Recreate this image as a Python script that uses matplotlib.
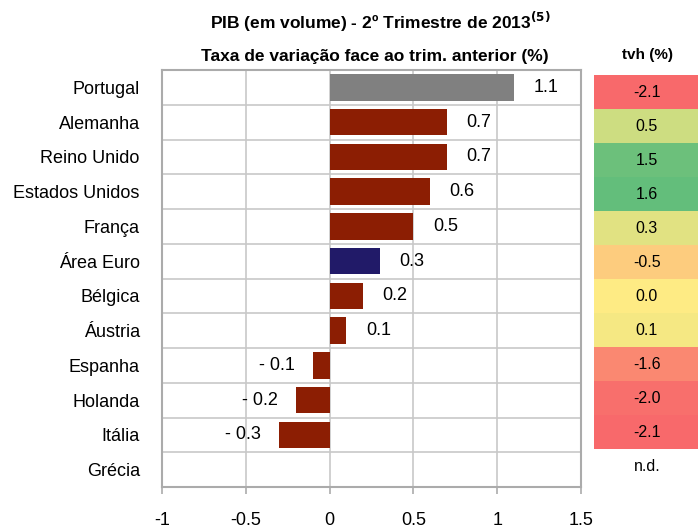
import matplotlib
matplotlib.use("Agg")
import matplotlib.pyplot as plt
import numpy as np
from matplotlib.colors import LinearSegmentedColormap, TwoSlopeNorm

# ── Data ──────────────────────────────────────────────────────────────────────

countries = ["Portugal", "Alemanha", "Reino Unido", "Estados Unidos", "França",
             "Área Euro", "Bélgica", "Áustria", "Espanha", "Holanda", "Itália", "Grécia"]
qoq = [1.1, 0.7, 0.7, 0.6, 0.5, 0.3, 0.2, 0.1, -0.1, -0.2, -0.3, np.nan]
yoy = [-2.1, 0.5, 1.5, 1.6, 0.3, -0.5, 0.0, 0.1, -1.6, -2.0, -2.1, np.nan]
x_ticks = [-1, -0.5, 0, 0.5, 1, 1.5]
x_tick_labels = ["-1", "-0.5", "0", "0.5", "1", "1.5"]

# ── Style ─────────────────────────────────────────────────────────────────────

BODY = ["Liberation Sans", "DejaVu Sans"]
NARROW = ["Liberation Sans Narrow", "Liberation Sans", "DejaVu Sans"]
RED = "#8C1E03"
GREY_BAR = "#808080"
NAVY = "#211A68"
GRID = "#C8C8C8"
SPINE = "#ABABAB"
W, H = 698, 528
FS = 13

plt.rcParams["font.family"] = BODY

fig = plt.figure(figsize=(W / 100, H / 100), dpi=100)


def px_axes(left, top, right, bottom):
    return fig.add_axes([left / W, 1 - bottom / H, (right - left) / W, (bottom - top) / H])


ax = px_axes(162, 70, 581, 487)
n = len(countries)
y = np.arange(n)

colors = []
for c in countries:
    if c == "Portugal":
        colors.append(GREY_BAR)
    elif c == "Área Euro":
        colors.append(NAVY)
    else:
        colors.append(RED)

vals = np.array(qoq, dtype=float)
ax.barh(y, np.nan_to_num(vals), height=0.76, color=colors, zorder=3)

for yi, v in zip(y, vals):
    if np.isnan(v):
        continue
    if v >= 0:
        ax.annotate(f"{v:.1f}", (v, yi), xytext=(14, 0), textcoords="offset points",
                    ha="left", va="center", fontsize=FS, zorder=4)
    else:
        ax.annotate(f"- {abs(v):.1f}", (v, yi), xytext=(-13, 0), textcoords="offset points",
                    ha="right", va="center", fontsize=FS, zorder=4)

ax.set_xlim(-1, 1.5)
ax.set_ylim(n - 0.5, -0.5)
ax.set_xticks(x_ticks)
ax.set_xticklabels(x_tick_labels, fontsize=FS)
ax.set_yticks(y)
ax.set_yticklabels(countries, fontsize=FS)
ax.tick_params(axis="y", length=0, pad=16)
ax.tick_params(axis="x", length=5, color=SPINE, width=1.2, pad=13)

for xv in x_ticks[1:-1]:
    ax.axvline(xv, color=GRID, lw=1.2, zorder=1)
for yb in np.arange(0.5, n - 0.5, 1):
    ax.axhline(yb, color=GRID, lw=1.2, zorder=1)
for s in ax.spines.values():
    s.set_color(SPINE)
    s.set_linewidth(1.5)

fig.text(380 / W, 1 - 22 / H, r"PIB (em volume) - 2º Trimestre de 2013$^{\mathbf{(5)}}$",
         ha="center", va="center", fontsize=12.5, fontweight="bold", family=NARROW)
fig.text(375 / W, 1 - 57 / H, "Taxa de variação face ao trim. anterior (%)",
         ha="center", va="center", fontsize=12.5, fontweight="bold", family=NARROW)
fig.text(647 / W, 1 - 55 / H, "tvh (%)", ha="center", va="center",
         fontsize=11, fontweight="bold", family=NARROW)

# ── tvh table ─────────────────────────────────────────────────────────────────

tab = px_axes(594, 75, 700, 483)
cmap = LinearSegmentedColormap.from_list("rdylgn_xl", ["#F8696B", "#FFEB84", "#63BE7B"])
yoy_arr = np.array(yoy, dtype=float)
norm = TwoSlopeNorm(vmin=np.nanmin(yoy_arr), vcenter=0.0, vmax=np.nanmax(yoy_arr))
for yi, v in zip(y, yoy_arr):
    if np.isnan(v):
        tab.text(0.5, yi, "n.d.", ha="center", va="center", fontsize=11.5, family=NARROW)
        continue
    tab.add_patch(plt.Rectangle((0, yi - 0.5), 1, 1, color=cmap(norm(v)), lw=0))
    tab.text(0.5, yi, f"{v:.1f}", ha="center", va="center", fontsize=11.5, family=NARROW)
tab.set_xlim(0, 1)
tab.set_ylim(n - 0.5, -0.5)
tab.axis("off")

fig.savefig("out.png", dpi=100)
